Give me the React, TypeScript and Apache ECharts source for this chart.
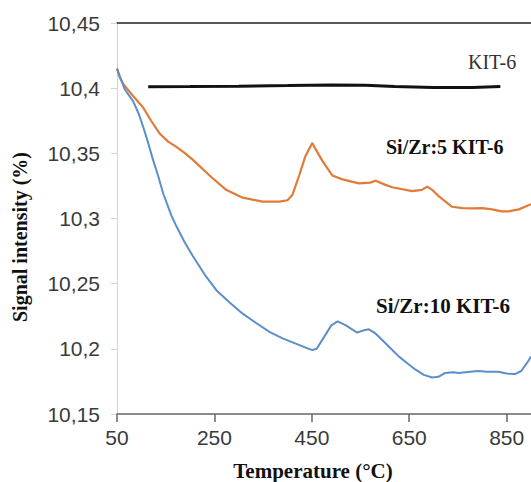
import React, { useEffect, useRef } from "react";
import * as echarts from "echarts";

const xTicks = [50, 250, 450, 650, 850];

const kitT = [114, 200, 300, 400, 490, 560, 620, 700, 780, 837];
const kitV = [10.401, 10.4012, 10.4015, 10.402, 10.4025, 10.4022, 10.4012, 10.4005, 10.4005, 10.4012];

const zr5T = [50, 55, 63, 83, 104, 120, 138, 155, 172, 190, 206, 240, 274, 308, 349, 383, 400, 410, 424, 437, 451, 458, 472, 492, 513, 547, 570, 581, 600, 615, 656, 676, 687, 697, 711, 738, 760, 779, 800, 820, 840, 854, 875, 900];
const zr5V = [10.415, 10.409, 10.403, 10.394, 10.385, 10.375, 10.365, 10.359, 10.355, 10.35, 10.345, 10.333, 10.322, 10.316, 10.313, 10.313, 10.314, 10.318, 10.333, 10.348, 10.358, 10.353, 10.344, 10.333, 10.33, 10.327, 10.3275, 10.329, 10.326, 10.324, 10.321, 10.322, 10.3245, 10.322, 10.317, 10.309, 10.308, 10.3078, 10.308, 10.307, 10.3055, 10.3055, 10.307, 10.311];

const zr10T = [50, 58, 66, 83, 95, 104, 114, 124, 135, 145, 162, 172, 190, 206, 230, 254, 280, 308, 335, 363, 390, 417, 440, 451, 460, 475, 490, 503, 520, 543, 555, 567, 580, 594, 610, 629, 646, 663, 680, 697, 710, 724, 740, 751, 775, 792, 810, 833, 850, 867, 880, 895, 900];
const zr10V = [10.415, 10.407, 10.399, 10.39, 10.38, 10.37, 10.358, 10.345, 10.332, 10.319, 10.302, 10.294, 10.281, 10.271, 10.257, 10.245, 10.236, 10.227, 10.22, 10.213, 10.208, 10.204, 10.2005, 10.199, 10.2, 10.209, 10.218, 10.221, 10.218, 10.2125, 10.214, 10.215, 10.212, 10.207, 10.201, 10.194, 10.189, 10.184, 10.18, 10.178, 10.1785, 10.1815, 10.182, 10.1815, 10.1825, 10.183, 10.1825, 10.1824, 10.181, 10.1806, 10.183, 10.191, 10.194];

const seriesNames = ["KIT-6", "Si/Zr:5 KIT-6", "Si/Zr:10 KIT-6"];

const zip = (a: number[], b: number[]) => a.map((t, i) => [t, b[i]]);

export default function App() {
  const ref = useRef<HTMLDivElement>(null);
  useEffect(() => {
    if (!ref.current) return;
    const chart = echarts.init(ref.current, null, { renderer: "svg" });
    const serif = "'Liberation Serif', 'Times New Roman', serif";
    const sans = "'Liberation Sans', Arial, sans-serif";
    chart.setOption({
      animation: false,
      backgroundColor: "#ffffff",
      grid: { left: 117, top: 23, width: 415, height: 391, containLabel: false },
      xAxis: [
        {
          type: "value",
          min: 50,
          max: 900,
          interval: 50,
          axisLine: { show: true, lineStyle: { color: "#666666", width: 1.5 } },
          axisTick: { show: true, length: 8, customValues: xTicks, lineStyle: { color: "#666666", width: 1.5 } },
          axisLabel: {
            customValues: xTicks,
            margin: 13,
            fontFamily: sans,
            fontSize: 21,
            color: "#3a3a3a",
          },
          splitLine: { show: false },
        },
        {
          type: "value",
          position: "top",
          min: 50,
          max: 900,
          axisLine: { show: true, lineStyle: { color: "#222222", width: 1.5 } },
          axisTick: { show: false },
          axisLabel: { show: false },
          splitLine: { show: false },
        },
      ],
      yAxis: {
        type: "value",
        min: 10.15,
        max: 10.45,
        interval: 0.05,
        axisLine: { show: true, lineStyle: { color: "#d4d4d4", width: 1 } },
        axisTick: { show: true, length: 6, lineStyle: { color: "#d4d4d4" } },
        axisLabel: {
          margin: 17,
          fontFamily: sans,
          fontSize: 21,
          color: "#3a3a3a",
          formatter: (v: number) => String(Math.round(v * 100) / 100).replace(".", ","),
        },
        splitLine: { show: false },
      },
      series: [
        {
          name: seriesNames[0],
          type: "line",
          data: zip(kitT, kitV),
          showSymbol: false,
          lineStyle: { color: "#111111", width: 3 },
          z: 3,
        },
        {
          name: seriesNames[1],
          type: "line",
          data: zip(zr5T, zr5V),
          showSymbol: false,
          lineStyle: { color: "#E07B39", width: 2.2 },
          z: 4,
        },
        {
          name: seriesNames[2],
          type: "line",
          data: zip(zr10T, zr10V),
          showSymbol: false,
          lineStyle: { color: "#5B8FC9", width: 2 },
          z: 5,
        },
      ],
      graphic: [
        {
          type: "text",
          left: 468,
          top: 52,
          style: { text: seriesNames[0], font: `normal 20px ${serif}`, fill: "#333333" },
        },
        {
          type: "text",
          left: 386,
          top: 137,
          style: { text: seriesNames[1], font: `bold 20px ${serif}`, fill: "#111111" },
        },
        {
          type: "text",
          left: 376,
          top: 295,
          style: { text: seriesNames[2], font: `bold 21px ${serif}`, fill: "#111111" },
        },
        {
          type: "text",
          x: 313,
          y: 471,
          style: { text: "Temperature (°C)", font: `bold 21px ${serif}`, fill: "#111111", align: "center", verticalAlign: "middle" },
        },
        {
          type: "text",
          x: 20,
          y: 237,
          rotation: Math.PI / 2,
          style: { text: "Signal intensity (%)", font: `bold 20px ${serif}`, fill: "#111111", align: "center", verticalAlign: "middle" },
        },
      ],
    });
    return () => chart.dispose();
  }, []);
  return <div ref={ref} style={{ position: "fixed", left: 0, top: 0, width: 531, height: 482 }} />;
}
